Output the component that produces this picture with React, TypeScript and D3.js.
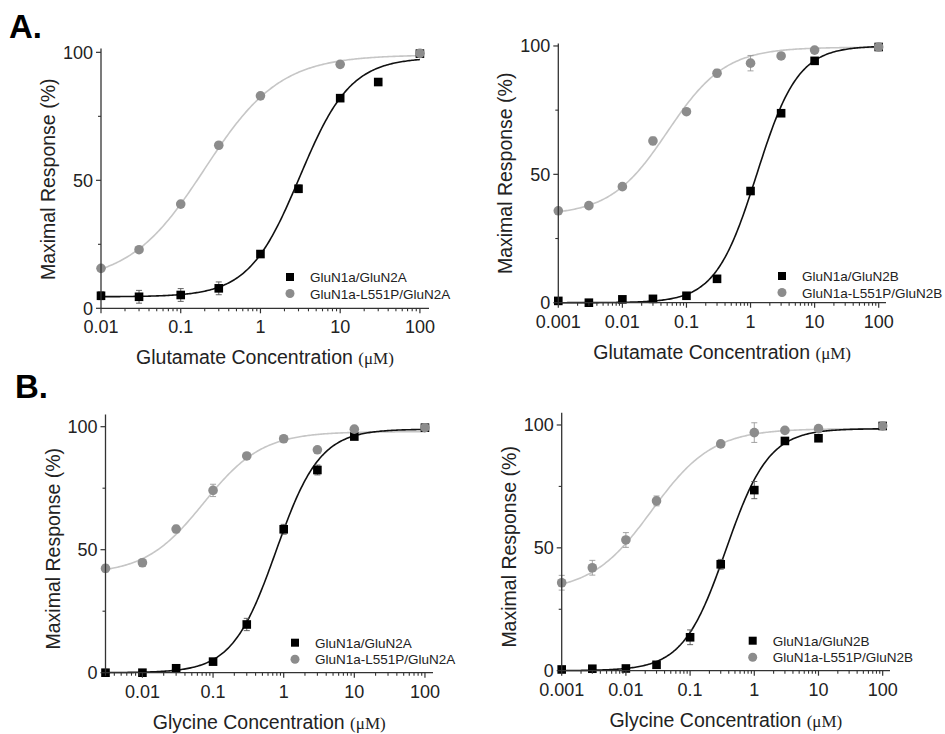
import React from 'react'
import * as d3 from 'd3'

// ---- data (concentrations in µM, response in %) ----

// A, left: glutamate, GluN2A
const gluN2AConc = [0.01, 0.03, 0.1, 0.3, 1, 3, 10, 30, 100]
const gluN2AWt = [4.9, 4.5, 5.2, 7.8, 21.2, 46.7, 82.1, 88.4, 99.5]
const gluN2AWtErr = [1.5, 2.5, 2.5, 2.5, 1, 1.5, 1, 0.8, 0]
const gluN2AMutConc = [0.01, 0.03, 0.1, 0.3, 1, 10, 100]
const gluN2AMut = [15.6, 22.9, 40.7, 63.7, 83, 95.3, 99.6]
const gluN2AMutErr = [1, 1, 1, 1, 1, 1, 0.5]
// Hill fits: bottom, top, EC50, slope
const gluN2AWtFit = [4.5, 98, 3.1, 1.36]
const gluN2AMutFit = [10, 99, 0.2, 0.92]

// A, right: glutamate, GluN2B
const gluN2BConc = [0.001, 0.003, 0.01, 0.03, 0.1, 0.3, 1, 3, 10, 100]
const gluN2BWt = [0.7, 0, 1.3, 1.5, 2.7, 9.3, 43.5, 73.8, 94.2, 99.6]
const gluN2BWtErr = [0.5, 0.5, 0.5, 0.5, 0.5, 0.8, 1, 1, 1, 0]
const gluN2BMutConc = [0.001, 0.003, 0.01, 0.03, 0.1, 0.3, 1, 3, 10, 100]
const gluN2BMut = [35.8, 37.8, 45.2, 63, 74.4, 89.4, 93.3, 96.1, 98.4, 99.6]
const gluN2BMutErr = [1, 1, 1, 1.5, 1, 1.5, 3, 1, 0.8, 0]
const gluN2BWtFit = [0, 100, 1.25, 1.35]
const gluN2BMutFit = [34, 99.5, 0.051, 0.97]

// B, left: glycine, GluN2A
const glyN2AConc = [0.003, 0.01, 0.03, 0.1, 0.3, 1, 3, 10, 100]
const glyN2AWt = [0, 0, 1.8, 4.5, 19.6, 58.3, 82.4, 96, 99.6]
const glyN2AWtErr = [0.5, 0.5, 0.5, 0.5, 2.5, 2, 2, 1, 0]
const glyN2AMutConc = [0.003, 0.01, 0.03, 0.1, 0.3, 1, 3, 10, 100]
const glyN2AMut = [42.4, 44.7, 58.4, 74.1, 88.1, 95.1, 90.6, 99, 99.6]
const glyN2AMutErr = [1.5, 1.5, 1.5, 2.5, 1, 1, 0.8, 0.8, 0]
const glyN2AWtFit = [0, 99, 0.78, 1.4]
const glyN2AMutFit = [40, 98, 0.0736, 1.05]

// B, right: glycine, GluN2B
const glyN2BConc = [0.001, 0.003, 0.01, 0.03, 0.1, 0.3, 1, 3, 10, 100]
const glyN2BWt = [0.5, 0.8, 0.9, 2.4, 13.6, 43.3, 73.5, 93.5, 94.6, 99.6]
const glyN2BWtErr = [0.5, 0.5, 0.5, 0.5, 3, 2, 3.5, 1, 1, 0]
const glyN2BMutConc = [0.001, 0.003, 0.01, 0.03, 0.3, 1, 3, 10, 100]
const glyN2BMut = [35.8, 41.9, 53.2, 69.1, 92.3, 96.9, 97.8, 98.5, 99.6]
const glyN2BMutErr = [3, 3, 3, 2, 1, 4, 0.8, 0.8, 0]
const glyN2BWtFit = [0, 98.5, 0.362, 1.3]
const glyN2BMutFit = [32, 98.5, 0.0254, 0.92]

const yTickValues = [0, 50, 100]
const yMinorValues = [25, 75]

const FONT = '"Liberation Sans", Arial, sans-serif'
const GRAY_DOT = '#8c8c8c'
const GRAY_LINE = '#c6c6c6'

function hill(c, fit) {
  const [bottom, top, ec50, n] = fit
  return bottom + (top - bottom) / (1 + Math.pow(ec50 / c, n))
}

function fmt(v) {
  if (v >= 1) return String(v)
  return String(+v.toPrecision(1))
}

function Panel(props) {
  const { x0, x1, yTop, yBase, xMin, yMax, xLabel, legendX, legendY, wt, mut, names } = props
  const x = d3.scaleLog().domain([xMin, 130]).range([x0, x1])
  const y = d3.scaleLinear().domain([0, yMax]).range([yBase, yTop])

  const majors = x.ticks().filter(t => Math.abs(Math.log10(t) - Math.round(Math.log10(t))) < 1e-6)
  const minors = x.ticks().filter(t => majors.indexOf(t) < 0 && t >= xMin)

  const lmin = Math.log10(xMin), lmax = 2
  const samples = d3.range(0, 241).map(i => Math.pow(10, lmin + (lmax - lmin) * i / 240))
  const line = fit => d3.line().x(c => x(c)).y(c => y(hill(c, fit)))(samples)

  const errBars = (conc, vals, errs, color) =>
    conc.map((c, i) => errs[i] > 0.6 ? (
      <g key={'e' + i} stroke={color} strokeWidth={0.9}>
        <line x1={x(c)} x2={x(c)} y1={y(vals[i] - errs[i])} y2={y(vals[i] + errs[i])} />
        <line x1={x(c) - 3} x2={x(c) + 3} y1={y(vals[i] - errs[i])} y2={y(vals[i] - errs[i])} />
        <line x1={x(c) - 3} x2={x(c) + 3} y1={y(vals[i] + errs[i])} y2={y(vals[i] + errs[i])} />
      </g>
    ) : null)

  const midY = (y(0) + y(100)) / 2 - 1
  return (
    <g fontFamily={FONT}>
      {/* fits */}
      <path d={line(mut.fit)} fill="none" stroke={GRAY_LINE} strokeWidth={1.6} />
      <path d={line(wt.fit)} fill="none" stroke="#111" strokeWidth={1.6} />
      {errBars(mut.conc, mut.vals, mut.err, '#9a9a9a')}
      {errBars(wt.conc, wt.vals, wt.err, '#555')}
      {wt.conc.map((c, i) => (
        <rect key={'s' + i} x={x(c) - 4.3} y={y(wt.vals[i]) - 4.3} width={8.6} height={8.6} fill="#000" />
      ))}
      {mut.conc.map((c, i) => (
        <circle key={'c' + i} cx={x(c)} cy={y(mut.vals[i])} r={4.8} fill={GRAY_DOT} />
      ))}

      {/* axes */}
      <line x1={x0} x2={x0} y1={yTop} y2={yBase} stroke="#333" strokeWidth={1.3} />
      <line x1={x0} x2={x1} y1={yBase} y2={yBase} stroke="#333" strokeWidth={1.3} />
      {yTickValues.map(t => (
        <g key={'yt' + t}>
          <line x1={x0 - 5} x2={x0} y1={y(t)} y2={y(t)} stroke="#333" strokeWidth={1.2} />
          <text x={x0 - 8} y={y(t) + 6.5} textAnchor="end" fontSize={18} fill="#222">{t}</text>
        </g>
      ))}
      {yMinorValues.map(t => (
        <line key={'ym' + t} x1={x0 - 3} x2={x0} y1={y(t)} y2={y(t)} stroke="#333" strokeWidth={1.1} />
      ))}
      {majors.map(t => (
        <g key={'xt' + t}>
          <line x1={x(t)} x2={x(t)} y1={yBase} y2={yBase + 5} stroke="#333" strokeWidth={1.2} />
          <text x={x(t)} y={yBase + 25} textAnchor="middle" fontSize={18} fill="#222">{fmt(t)}</text>
        </g>
      ))}
      {minors.map((t, i) => (
        <line key={'xm' + i} x1={x(t)} x2={x(t)} y1={yBase} y2={yBase + 3} stroke="#333" strokeWidth={1.1} />
      ))}

      {/* axis titles */}
      <text x={(x0 + x1) / 2} y={yBase + 56} textAnchor="middle" fontSize={19.5} fill="#222">
        {xLabel}<tspan fontFamily='"Liberation Serif", "Times New Roman", serif' fontSize={17}>(μM)</tspan>
      </text>
      <text transform={`translate(${x0 - 46},${midY}) rotate(-90)`} textAnchor="middle" fontSize={19.5} fill="#222">
        Maximal Response (%)
      </text>

      {/* legend */}
      <rect x={legendX - 4} y={legendY - 4} width={8} height={8} fill="#000" />
      <circle cx={legendX} cy={legendY + 16.5} r={4.5} fill={GRAY_DOT} />
      <text x={legendX + 20} y={legendY + 5} fontSize={13.5} fill="#222">{names[0]}</text>
      <text x={legendX + 20} y={legendY + 21.5} fontSize={13.5} fill="#222">{names[1]}</text>
    </g>
  )
}

export default function App() {
  return (
    <svg width={945} height={734} style={{ position: 'absolute', left: 0, top: 0, background: '#fff' }}>
      <rect width={945} height={734} fill="#fff" />
      <text x={9} y={38} fontFamily={FONT} fontWeight="bold" fontSize={33} fill="#000">A.</text>
      <text x={15} y={398} fontFamily={FONT} fontWeight="bold" fontSize={33} fill="#000">B.</text>

      <Panel
        x0={101} x1={429} yTop={48.5} yBase={308.3} xMin={0.01} yMax={101.5}
        xLabel="Glutamate Concentration "
        legendX={290} legendY={277}
        names={['GluN1a/GluN2A', 'GluN1a-L551P/GluN2A']}
        wt={{ conc: gluN2AConc, vals: gluN2AWt, err: gluN2AWtErr, fit: gluN2AWtFit }}
        mut={{ conc: gluN2AMutConc, vals: gluN2AMut, err: gluN2AMutErr, fit: gluN2AMutFit }}
      />
      <Panel
        x0={558.3} x1={886} yTop={43.4} yBase={302.7} xMin={0.001} yMax={101}
        xLabel="Glutamate Concentration "
        legendX={782} legendY={276}
        names={['GluN1a/GluN2B', 'GluN1a-L551P/GluN2B']}
        wt={{ conc: gluN2BConc, vals: gluN2BWt, err: gluN2BWtErr, fit: gluN2BWtFit }}
        mut={{ conc: gluN2BMutConc, vals: gluN2BMut, err: gluN2BMutErr, fit: gluN2BMutFit }}
      />
      <Panel
        x0={105.5} x1={433} yTop={414.4} yBase={672.7} xMin={0.003} yMax={105}
        xLabel="Glycine Concentration "
        legendX={295} legendY={642.7}
        names={['GluN1a/GluN2A', 'GluN1a-L551P/GluN2A']}
        wt={{ conc: glyN2AConc, vals: glyN2AWt, err: glyN2AWtErr, fit: glyN2AWtFit }}
        mut={{ conc: glyN2AMutConc, vals: glyN2AMut, err: glyN2AMutErr, fit: glyN2AMutFit }}
      />
      <Panel
        x0={561.7} x1={890} yTop={412.7} yBase={670.7} xMin={0.001} yMax={105}
        xLabel="Glycine Concentration "
        legendX={752.7} legendY={640.7}
        names={['GluN1a/GluN2B', 'GluN1a-L551P/GluN2B']}
        wt={{ conc: glyN2BConc, vals: glyN2BWt, err: glyN2BWtErr, fit: glyN2BWtFit }}
        mut={{ conc: glyN2BMutConc, vals: glyN2BMut, err: glyN2BMutErr, fit: glyN2BMutFit }}
      />
    </svg>
  )
}
